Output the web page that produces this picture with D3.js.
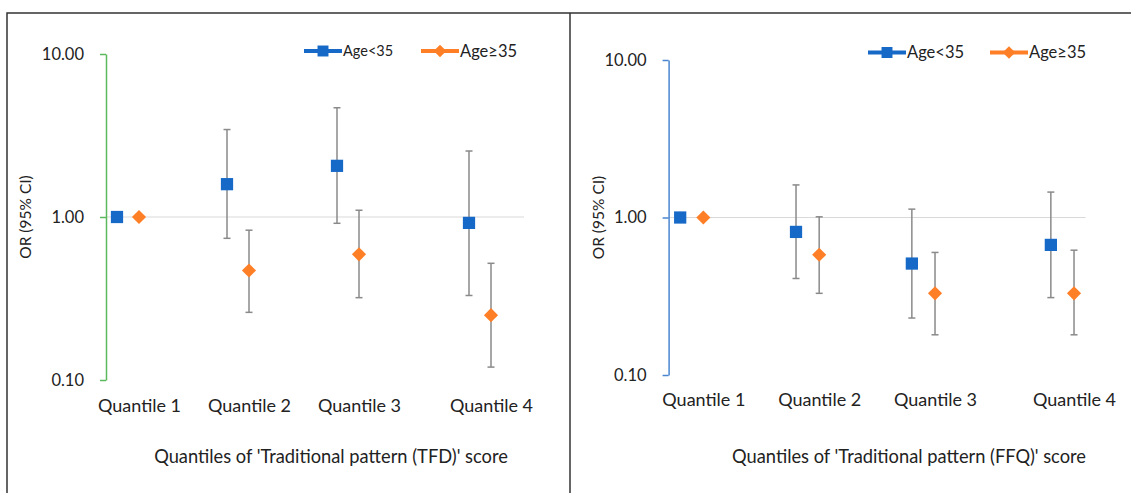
<!DOCTYPE html>
<html><head><meta charset="utf-8">
<script src="https://cdn.jsdelivr.net/npm/d3@7"></script>
<style>
body{margin:0;background:#fff;}
svg{display:block;font-family:Lato,"Open Sans",sans-serif;}
</style></head>
<body><svg id="c" width="1131" height="493"></svg>
<script>
// ---- data ----
const categories = ["Quantile 1","Quantile 2","Quantile 3","Quantile 4"];
const seriesNames = ["Age<35","Age\u226535"];
const yTicks = [0.1, 1, 10];
// x-values of the scatter points (category position + offset)
const xYoung = [0.1, 1.1, 2.1, 3.3];
const xOld   = [0.3, 1.3, 2.3, 3.5];
// Panel A: Traditional pattern (TFD)
const tfdYoungOR = [1.00, 1.59, 2.06, 0.92];
const tfdYoungLo = [1.00, 0.74, 0.915, 0.33];
const tfdYoungHi = [1.00, 3.44, 4.68, 2.54];
const tfdOldOR   = [1.00, 0.47, 0.59, 0.25];
const tfdOldLo   = [1.00, 0.26, 0.32, 0.12];
const tfdOldHi   = [1.00, 0.83, 1.10, 0.52];
// Panel B: Traditional pattern (FFQ)
const ffqYoungOR = [1.00, 0.81, 0.51, 0.67];
const ffqYoungLo = [1.00, 0.41, 0.23, 0.31];
const ffqYoungHi = [1.00, 1.61, 1.13, 1.45];
const ffqOldOR   = [1.00, 0.58, 0.33, 0.33];
const ffqOldLo   = [1.00, 0.33, 0.18, 0.18];
const ffqOldHi   = [1.00, 1.01, 0.60, 0.62];
const titleA = "Quantiles of 'Traditional pattern (TFD)' score";
const titleB = "Quantiles of 'Traditional pattern (FFQ)' score";
const yTitle = "OR (95% CI)";

const BLUE = "#1769c8", ORANGE = "#ff7f27", GREY = "#8a8a8a";
const svg = d3.select("#c");

// frame
svg.append("path").attr("d","M7,493 V13 H1131").attr("fill","none").attr("stroke","#333").attr("stroke-width",1.5);
svg.append("line").attr("x1",570).attr("x2",570).attr("y1",13).attr("y2",493).attr("stroke","#333").attr("stroke-width",1.5);

const diamond = sz => d3.symbol().type(d3.symbolSquare).size(sz);

function panel(p){
  const g = svg.append("g");
  const x = d3.scaleLinear().domain([0, p.xMax]).range([p.x0, p.x1]);
  const y = d3.scaleLog().domain([0.1, 10]).range([p.yBot, p.yTop]);

  g.append("line").attr("x1",x(0)).attr("x2",x(p.xMax)).attr("y1",y(1)).attr("y2",y(1))
    .attr("stroke","#d9d9d9").attr("stroke-width",1);

  const ya = g.append("g").attr("transform",`translate(${x(0)},0)`)
    .call(d3.axisLeft(y).tickValues(yTicks).tickFormat(d3.format(".2f")).tickSize(6).tickSizeOuter(0).tickPadding(16));
  ya.select(".domain").attr("stroke",p.axisColor).attr("stroke-width",1.5);
  ya.selectAll(".tick line").attr("stroke",p.axisColor).attr("stroke-width",1.5);
  ya.selectAll(".tick text").attr("font-size",16.5).attr("fill","#222").attr("font-family","Lato");

  g.append("text").attr("transform",`translate(${p.yTitleX},${y(1)}) rotate(-90)`)
    .attr("text-anchor","middle").attr("dy","0.35em").attr("font-size",15.5).attr("fill","#222").text(yTitle);

  const xa = g.append("g").attr("transform",`translate(0,${p.xLabY})`)
    .call(d3.axisBottom(x).tickValues(xOld).tickFormat((d,i)=>categories[i]).tickSize(0).tickPadding(0));
  xa.select(".domain").remove();
  xa.selectAll(".tick text").attr("font-size",18).attr("fill","#222").attr("font-family","Lato").attr("dy","0.35em");

  g.append("text").attr("x",p.titleX).attr("y",p.titleY).attr("text-anchor","middle").attr("dy","0.35em")
    .attr("font-size",18.3).attr("fill","#222").text(p.title);

  const series = [
    {xs:xYoung, or:p.yOR, lo:p.yLo, hi:p.yHi, color:BLUE, sq:true},
    {xs:xOld, or:p.oOR, lo:p.oLo, hi:p.oHi, color:ORANGE, sq:false}
  ];
  series.forEach(s=>{
    const d = s.or.map((v,i)=>({x:s.xs[i], v, lo:s.lo[i], hi:s.hi[i]}));
    const eb = g.append("g").selectAll("g").data(d.filter(e=>e.lo!==e.hi)).join("g").attr("stroke",GREY).attr("stroke-width",1.5);
    eb.append("line").attr("x1",e=>x(e.x)).attr("x2",e=>x(e.x)).attr("y1",e=>y(e.lo)).attr("y2",e=>y(e.hi));
    eb.append("line").attr("x1",e=>x(e.x)-3.5).attr("x2",e=>x(e.x)+3.5).attr("y1",e=>y(e.lo)).attr("y2",e=>y(e.lo));
    eb.append("line").attr("x1",e=>x(e.x)-3.5).attr("x2",e=>x(e.x)+3.5).attr("y1",e=>y(e.hi)).attr("y2",e=>y(e.hi));
    g.append("g").selectAll("path").data(d).join("path")
      .attr("transform",e=>`translate(${x(e.x)},${y(e.v)})` + (s.sq?"":" rotate(45)"))
      .attr("d",s.sq ? d3.symbol().type(d3.symbolSquare).size(150)() : diamond(100)())
      .attr("fill",s.color);
  });

  p.legend.forEach((L,i)=>{
    const col = i===0?BLUE:ORANGE;
    g.append("line").attr("x1",L.x).attr("x2",L.x+38).attr("y1",p.legY).attr("y2",p.legY)
      .attr("stroke",col).attr("stroke-width",4);
    g.append("path").attr("transform",`translate(${L.x+19},${p.legY})`+(i===0?"":" rotate(45)"))
      .attr("d",i===0?d3.symbol().type(d3.symbolSquare).size(120)():diamond(80)()).attr("fill",col);
    g.append("text").attr("x",L.x+39).attr("y",p.legY).attr("dy","0.35em").attr("font-size",L.fs)
      .attr("fill","#222").text(seriesNames[i]);
  });
}

panel({x0:106, x1:524, xMax:3.8, yTop:54, yBot:380, axisColor:"#5cb85c", yTitleX:26,
  xLabY:406, titleX:331, titleY:457, title:titleA, legY:51,
  legend:[{x:304,fs:14.5},{x:421,fs:16.5}],
  yOR:tfdYoungOR,yLo:tfdYoungLo,yHi:tfdYoungHi,oOR:tfdOldOR,oLo:tfdOldLo,oHi:tfdOldHi});
panel({x0:668.6, x1:1085.6, xMax:3.6, yTop:60, yBot:375, axisColor:"#4a86d0", yTitleX:599,
  xLabY:400, titleX:909, titleY:457, title:titleB, legY:52.5,
  legend:[{x:868,fs:16.5},{x:990,fs:16.5}],
  yOR:ffqYoungOR,yLo:ffqYoungLo,yHi:ffqYoungHi,oOR:ffqOldOR,oLo:ffqOldLo,oHi:ffqOldHi});
</script></body></html>
